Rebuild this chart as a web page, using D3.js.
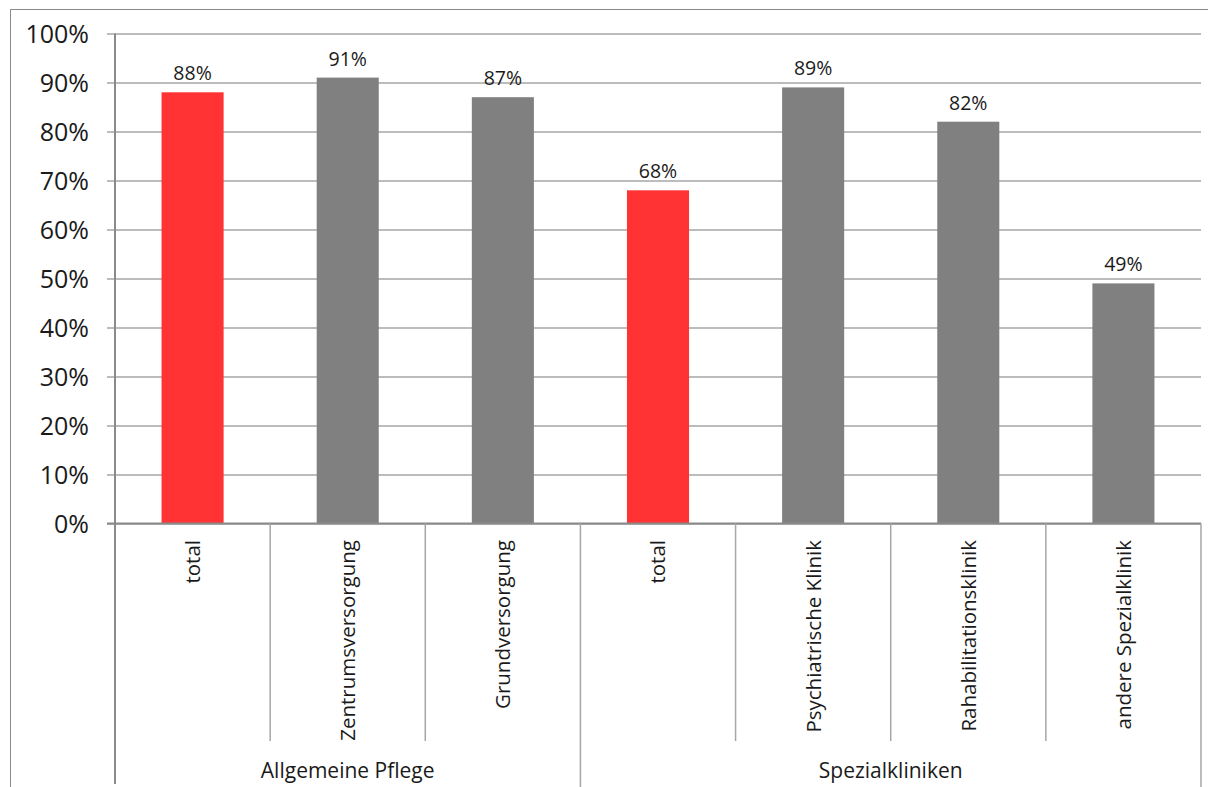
<!DOCTYPE html>
<html>
<head>
<meta charset="utf-8">
<script src="https://cdn.jsdelivr.net/npm/d3@7"></script>
<style>
  html, body { margin: 0; padding: 0; background: #fff; }
  svg { display: block; font-family: "Open Sans", "Noto Sans", sans-serif; }
</style>
</head>
<body>
<svg id="chart" width="1208" height="787"></svg>
<script>
// Hospital categories, grouped by type
const categories = ["total", "Zentrumsversorgung", "Grundversorgung",
                    "total", "Psychiatrische Klinik", "Rahabilitationsklinik", "andere Spezialklinik"];
const values = [88, 91, 87, 68, 89, 82, 49];
const isTotal = [true, false, false, true, false, false, false];
const groups = ["Allgemeine Pflege", "Spezialkliniken"];
const groupSizes = [3, 4];
const yTicks = [0, 10, 20, 30, 40, 50, 60, 70, 80, 90, 100];

const FONT = '"Open Sans", "Noto Sans", sans-serif';
const svg = d3.select("#chart");
const W = 1208, H = 787;
const plot = { left: 115, right: 1201, top: 33.5, bottom: 523.5 };

// Outer frame of the chart area (open to the right and bottom)
svg.append("path")
  .attr("d", `M10.5,${H} V9.5 H${W}`)
  .attr("fill", "none").attr("stroke", "#8a8a8a").attr("stroke-width", 1);

const x = d3.scaleBand()
  .domain(d3.range(categories.length))
  .range([plot.left, plot.right])
  .paddingInner(0.6)
  .paddingOuter(0.3);

const y = d3.scaleLinear().domain([0, 100]).range([plot.bottom, plot.top]);

// Horizontal gridlines and y-axis labels
const yAxis = d3.axisLeft(y)
  .tickValues(yTicks)
  .tickSize(-(plot.right - plot.left))
  .tickSizeOuter(0)
  .tickFormat(d => d + "%");

const yg = svg.append("g")
  .attr("transform", `translate(${plot.left},0)`)
  .call(yAxis)
  .attr("font-family", FONT)
  .attr("font-size", 25);
yg.select(".domain").remove();
yg.selectAll(".tick line")
  .attr("x1", -8)
  .attr("stroke", "#a6a6a6")
  .attr("stroke-width", 1.5);
yg.selectAll(".tick text")
  .attr("fill", "#1a1a1a")
  .attr("x", -26)
  .attr("dy", "0.36em");

// Bars
const step = x.step();
svg.append("g").selectAll("rect")
  .data(values)
  .join("rect")
  .attr("x", (d, i) => x(i))
  .attr("y", d => y(d))
  .attr("width", x.bandwidth())
  .attr("height", d => y(0) - y(d))
  .attr("fill", (d, i) => isTotal[i] ? "#ff3333" : "#808080");

// Value labels above bars
svg.append("g").selectAll("text")
  .data(values)
  .join("text")
  .attr("x", (d, i) => x(i) + x.bandwidth() / 2)
  .attr("y", d => y(d) - 12)
  .attr("text-anchor", "middle")
  .attr("fill", "#1a1a1a")
  .style("font-size", "19.5px")
  .text(d => d + "%");

// Vertical axis line, extended through the category label area
svg.append("line")
  .attr("x1", plot.left).attr("x2", plot.left)
  .attr("y1", plot.top).attr("y2", 784)
  .attr("stroke", "#8a8a8a").attr("stroke-width", 2);

// Baseline (0%)
svg.append("line")
  .attr("x1", plot.left - 8).attr("x2", plot.right)
  .attr("y1", y(0)).attr("y2", y(0))
  .attr("stroke", "#8a8a8a").attr("stroke-width", 2);

// Category dividers: group boundaries run to the bottom, inner ones stop above the group labels
const groupEnds = d3.cumsum(groupSizes);
const boundaries = d3.range(1, categories.length + 1);
svg.append("g").selectAll("line")
  .data(boundaries)
  .join("line")
  .attr("x1", k => plot.left + k * step)
  .attr("x2", k => plot.left + k * step)
  .attr("y1", y(0))
  .attr("y2", k => groupEnds.includes(k) ? 787 : 741)
  .attr("stroke", "#a6a6a6")
  .attr("stroke-width", 1.5);

// Rotated category labels
svg.append("g").selectAll("text")
  .data(categories)
  .join("text")
  .attr("transform", (d, i) => `translate(${x(i) + x.bandwidth() / 2},540) rotate(-90)`)
  .attr("text-anchor", "end")
  .attr("dy", "0.36em")
  .attr("fill", "#1a1a1a")
  .style("font-size", "20.5px")
  .text(d => d);

// Group labels
const groupStarts = [0, ...groupEnds.slice(0, -1)];
svg.append("g").selectAll("text")
  .data(groups)
  .join("text")
  .attr("x", (d, i) => plot.left + (groupStarts[i] + groupSizes[i] / 2) * step)
  .attr("y", 778)
  .attr("text-anchor", "middle")
  .attr("fill", "#1a1a1a")
  .style("font-size", "21px")
  .text(d => d);
</script>
</body>
</html>
